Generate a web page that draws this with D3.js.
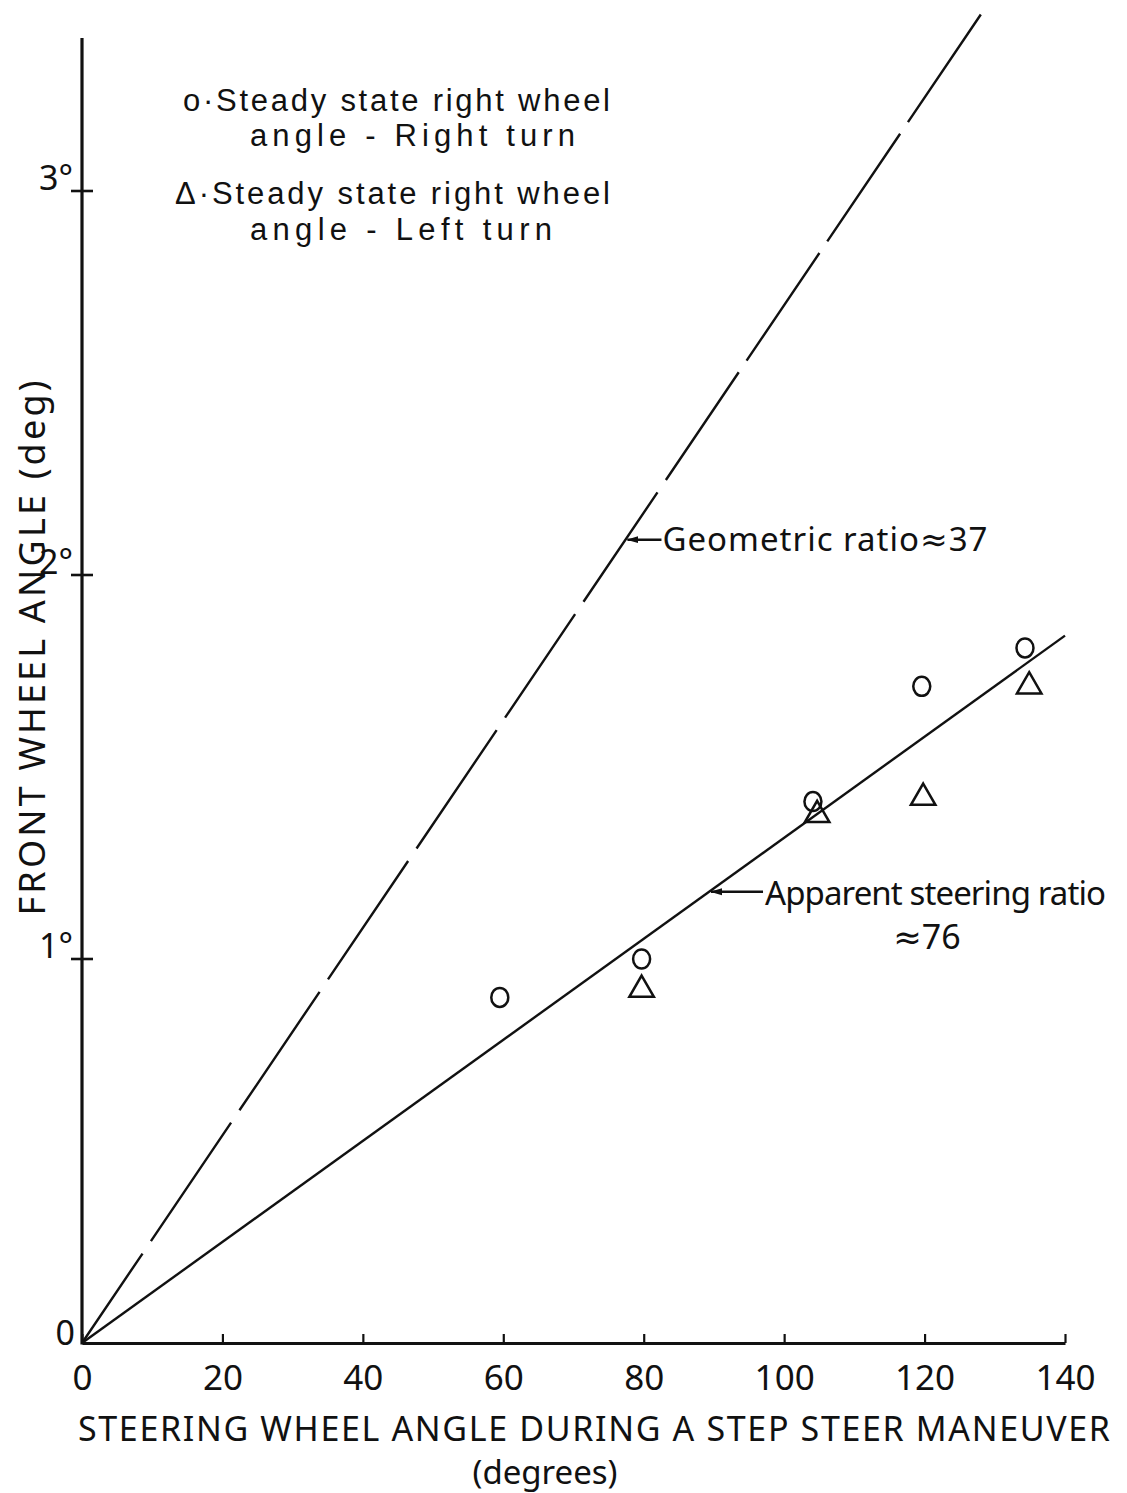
<!DOCTYPE html>
<html>
<head>
<meta charset="utf-8">
<script src="https://cdn.jsdelivr.net/npm/d3@7"></script>
<style>
  html, body { margin: 0; padding: 0; background: #fff; }
  svg { display: block; }
  text { font-family: "Noto Sans", "DejaVu Sans", sans-serif; fill: #111; }
  .legend { font-family: "Liberation Sans", "Noto Sans", sans-serif; }
</style>
</head>
<body>
<svg id="chart" width="1127" height="1493"></svg>
<script>
// Steering wheel angle (deg) for each step-steer run
const rightTurnX = [59.5, 79.7, 104.1, 119.6, 134.3];
// Steady state right wheel angle, right turn (deg)
const rightTurnY = [0.90, 1.00, 1.41, 1.71, 1.81];
const leftTurnX = [79.7, 104.7, 119.8, 134.9];
// Steady state right wheel angle, left turn (deg)
const leftTurnY = [0.92, 1.375, 1.42, 1.71];

// Reference ratio lines: steering wheel angle / front wheel angle
const ratioNames = ["geometric", "apparent"];
const ratios = [37, 76];
const ratioXEnd = [128.2, 140];

const xTicks = [0, 20, 40, 60, 80, 100, 120, 140];
const xTickLabels = ["0", "20", "40", "60", "80", "100", "120", "140"];
const yTicks = [1, 2, 3];
const yTickLabels = ["1°", "2°", "3°"];

const svg = d3.select("#chart");
const ink = "#111";

const x = d3.scaleLinear().domain([0, 140]).range([82, 1065]);
const y = d3.scaleLinear().domain([0, 3]).range([1343, 191]);

// Arrowhead for the line annotations (points along the path direction)
svg.append("defs").append("marker")
  .attr("id", "arrow")
  .attr("viewBox", "0 0 12 10")
  .attr("refX", 11).attr("refY", 5)
  .attr("markerWidth", 12).attr("markerHeight", 10)
  .attr("markerUnits", "userSpaceOnUse")
  .attr("orient", "auto")
  .append("path").attr("d", "M0,1.5 L12,5 L0,8.5 Z").attr("fill", ink);

// X axis with short upward ticks
const xAxis = d3.axisBottom(x)
  .tickValues(xTicks)
  .tickFormat((d, i) => xTickLabels[i])
  .tickSizeInner(-9).tickSizeOuter(0).tickPadding(22);
const gx = svg.append("g").attr("transform", `translate(0,${y(0)})`).call(xAxis);
gx.select(".domain").attr("stroke", ink).attr("stroke-width", 3.2);
gx.selectAll(".tick line").attr("stroke", ink).attr("stroke-width", 2.2);
gx.selectAll(".tick text")
  .attr("fill", ink)
  .style("font-size", "35px")
  .style("font-family", "\"Noto Sans\", sans-serif");

// Y axis: plain spine up past 3°, ticks crossing the spine
const yTop = y.invert(38);
svg.append("line")
  .attr("x1", x(0)).attr("x2", x(0))
  .attr("y1", y(0) + 1.5).attr("y2", y(yTop))
  .attr("stroke", ink).attr("stroke-width", 3.2);
svg.selectAll(".ytick").data(yTicks).join("line")
  .attr("class", "ytick")
  .attr("x1", x(0) - 11).attr("x2", x(0) + 11)
  .attr("y1", d => y(d)).attr("y2", d => y(d))
  .attr("stroke", ink).attr("stroke-width", 2.6);
svg.selectAll(".ylabel").data(yTicks).join("text")
  .attr("class", "ylabel")
  .attr("x", x(0) - 9).attr("y", d => y(d) - 1)
  .attr("text-anchor", "end")
  .style("font-size", "34px")
  .text((d, i) => yTickLabels[i]);
svg.append("text")
  .attr("x", x(0) - 7).attr("y", y(0) + 2)
  .attr("text-anchor", "end")
  .style("font-size", "34px")
  .text("0");

// Ratio lines through the origin; the geometric one is long-dashed
const ratioLine = d3.line().x(d => x(d[0])).y(d => y(d[1]));
const geoDash = "108 15 143 15 143 15 143 15 143 15 125 15 132 15 130 14 130 14 130 14 130 14 130 14";
ratios.forEach((r, i) => {
  const pts = [[0, 0], [ratioXEnd[i], ratioXEnd[i] / r]];
  svg.append("path")
    .attr("class", "ratio-" + ratioNames[i])
    .attr("d", ratioLine(pts))
    .attr("fill", "none")
    .attr("stroke", ink)
    .attr("stroke-width", 2.4)
    .attr("stroke-dasharray", i === 0 ? geoDash : null);
});

// Data points: circles for right turn, triangles for left turn
svg.selectAll(".pt-right").data(rightTurnX.map((v, i) => [v, rightTurnY[i]])).join("ellipse")
  .attr("class", "pt-right")
  .attr("cx", d => x(d[0])).attr("cy", d => y(d[1]))
  .attr("rx", 8.5).attr("ry", 9.5)
  .attr("fill", "none").attr("stroke", ink).attr("stroke-width", 2.5);

const tri = d3.symbol().type(d3.symbolTriangle).size(260);
svg.selectAll(".pt-left").data(leftTurnX.map((v, i) => [v, leftTurnY[i]])).join("path")
  .attr("class", "pt-left")
  .attr("transform", d => `translate(${x(d[0])},${y(d[1])})`)
  .attr("d", tri)
  .attr("fill", "none").attr("stroke", ink).attr("stroke-width", 2.5);

// Line annotations: leader with arrowhead touching the line
function annotate(ratioIdx, xv, len) {
  const r = ratios[ratioIdx];
  const x0 = x(xv), y0 = y(xv / r);
  svg.append("line")
    .attr("x1", x0 + len).attr("y1", y0)
    .attr("x2", x0 + 2).attr("y2", y0)
    .attr("stroke", ink).attr("stroke-width", 2.4)
    .attr("marker-end", "url(#arrow)");
  return [x0 + len, y0];
}
const g1 = annotate(0, 77.4, 36);
svg.append("text")
  .attr("x", g1[0] + 1).attr("y", g1[1] + 11)
  .attr("textLength", 325)
  .attr("lengthAdjust", "spacing")
  .style("font-size", "33px")
  .text("Geometric ratio≈37");
const g2 = annotate(1, 89.3, 54);
svg.append("text")
  .attr("x", g2[0] + 2).attr("y", g2[1] + 13)
  .attr("textLength", 341)
  .attr("lengthAdjust", "spacing")
  .style("font-size", "33px")
  .text("Apparent steering ratio");
svg.append("text")
  .attr("x", 927).attr("y", g2[1] + 57)
  .attr("text-anchor", "middle")
  .style("font-size", "34px")
  .text("≈76");

// Legend block
const legendLines = [
  { t: "o·Steady state right wheel", x: 183, y: 111, w: 427 },
  { t: "angle - Right turn", x: 250, y: 146, w: 325 },
  { t: "Δ·Steady state right wheel", x: 175, y: 204, w: 435 },
  { t: "angle - Left turn", x: 250, y: 240, w: 302 }
];
svg.selectAll(".legend").data(legendLines).join("text")
  .attr("class", "legend")
  .attr("x", d => d.x).attr("y", d => d.y)
  .attr("textLength", d => d.w)
  .attr("lengthAdjust", "spacing")
  .style("font-size", "31px")
  .text(d => d.t);

// Axis titles
svg.append("text")
  .attr("transform", `translate(45,648) rotate(-90)`)
  .attr("text-anchor", "middle")
  .attr("textLength", 535)
  .attr("lengthAdjust", "spacing")
  .style("font-size", "36px")
  .text("FRONT WHEEL ANGLE (deg)");
svg.append("text")
  .attr("x", 78).attr("y", 1441)
  .attr("textLength", 1032)
  .attr("lengthAdjust", "spacing")
  .style("font-size", "34px")
  .text("STEERING WHEEL ANGLE DURING A STEP STEER MANEUVER");
svg.append("text")
  .attr("x", 545).attr("y", 1484)
  .attr("text-anchor", "middle")
  .style("font-size", "33px")
  .text("(degrees)");
</script>
</body>
</html>
